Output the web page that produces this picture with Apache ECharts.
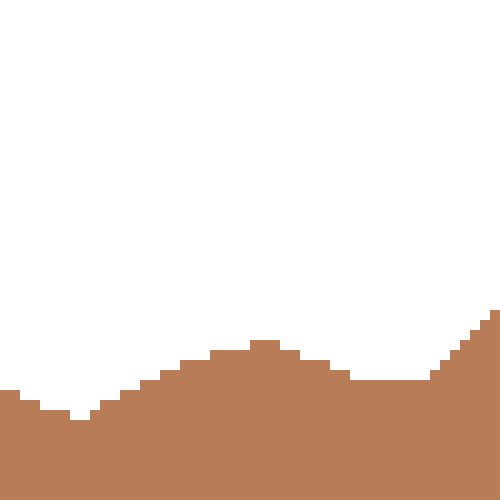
<!DOCTYPE html>
<html>
<head>
<meta charset="utf-8">
<script src="https://cdn.jsdelivr.net/npm/echarts@6/dist/echarts.min.js"></script>
<style>
html, body { margin: 0; padding: 0; background: #fff; }
#chart { width: 500px; height: 500px; }
</style>
</head>
<body>
<div id="chart"></div>
<script>
// one value per 10px column
var categories = [];
for (var i = 0; i < 50; i++) categories.push(String(i + 1));

var heights = [
	110, 110, 100, 100, 90, 90, 90, 80, 80, 90,
	100, 100, 110, 110, 120, 120, 130, 130, 140, 140,
	140, 150, 150, 150, 150, 160, 160, 160, 150, 150,
	140, 140, 140, 130, 130, 120, 120, 120, 120, 120,
	120, 120, 120, 130, 140, 150, 160, 170, 180, 190
];

var yMax = 500;

var chart = echarts.init(document.getElementById('chart'));
chart.setOption({
	animation: false,
	grid: { left: 0, right: 0, top: 0, bottom: 0 },
	xAxis: {
		type: 'category',
		data: categories,
		show: false
	},
	yAxis: {
		type: 'value',
		min: 0,
		max: yMax,
		show: false
	},
	series: [{
		type: 'bar',
		data: heights,
		barCategoryGap: 0,
		itemStyle: { color: '#b97c59' }
	}]
});
</script>
</body>
</html>
